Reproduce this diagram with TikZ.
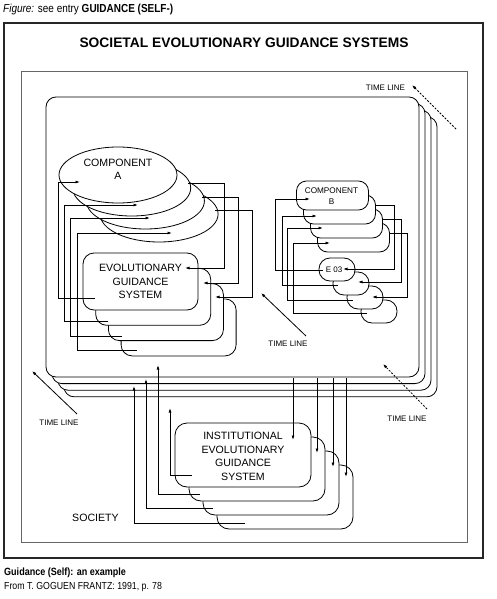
\documentclass[tikz,border=0pt]{standalone}
\usepackage{fontspec}
\setmainfont{Liberation Sans}
\newfontfamily\condfont[FakeStretch=0.86]{Liberation Sans}
\usetikzlibrary{shapes.geometric,arrows.meta}
\begin{document}
\begin{tikzpicture}[x=1pt,y=-1pt,
  ln/.style={line width=0.8pt, draw=black},
  arr/.style={ln, -{Latex[length=4.5pt,width=3pt]}},
  dsh/.style={dash pattern=on 2pt off 1.5pt},
  stk/.style={draw=black, fill=white, line width=0.8pt, inner sep=0pt, outer sep=0pt},
  lbl/.style={font=\fontsize{10.6}{13.5}\selectfont, align=center, inner sep=0pt},
  tl/.style={font=\fontsize{8}{9}\selectfont, inner sep=0pt}]
\useasboundingbox (0,0) rectangle (496,599);
% frames
\draw[black!85, line width=1.3pt] (4,23) rectangle (483,558);
\draw[black!60, line width=0.8pt] (21,71) rectangle (467,542);
\node[anchor=west, inner sep=0pt, font=\condfont\fontsize{11.6}{13}\selectfont] (hdr) at (3,9.5) {\textit{Figure:} see entry \textbf{GUIDANCE (SELF-)}};
\node[font=\bfseries\fontsize{13.8}{16}\selectfont, inner sep=0pt] (title) at (244,43) {SOCIETAL EVOLUTIONARY GUIDANCE SYSTEMS};
\node[anchor=west, inner sep=0pt, font=\condfont\bfseries\fontsize{10.5}{12}\selectfont] (cap1) at (4,573) {Guidance (Self): an example};
\node[anchor=west, inner sep=0pt, font=\condfont\fontsize{10.2}{12}\selectfont] (cap2) at (4,587) {From T. GOGUEN FRANTZ: 1991, p. 78};
% society stack
\foreach \k in {3,2,1,0} {\node[stk, rounded corners=10pt, minimum width=373pt, minimum height=280pt] (soc\k) at ({232.5+6*\k},{237+6.6*\k}) {};}
% component A ellipses
\foreach \k in {3,2,1,0} {\node[stk, ellipse, minimum width=118pt, minimum height=56pt] (ca\k) at ({118+13.7*\k},{175+13*\k}) {};}
\node[lbl] (catext) at (118,169.5) {COMPONENT\\A};
% EGS stack
\foreach \k in {3,2,1,0} {\node[stk, rounded corners=11pt, minimum width=115pt, minimum height=57pt] (egs\k) at ({140.5+12.7*\k},{281.5+15.3*\k}) {};}
\node[lbl] (egstext) at (140.5,281.5) {EVOLUTIONARY\\GUIDANCE\\SYSTEM};
% component B stack
\foreach \k in {3,2,1,0} {\node[stk, rounded corners=10pt, minimum width=72pt, minimum height=29pt] (cb\k) at ({332.5+7*\k},{195.5+14*\k}) {};}
\node[font=\fontsize{8.2}{11}\selectfont, align=center, inner sep=0pt] (cbtext) at (331.5,196) {COMPONENT\\B};
% E stack
\foreach \k in {3,2,1,0} {\node[stk, rounded corners=11pt, minimum width=36pt, minimum height=23pt] (e\k) at ({337+14*\k},{269.5+14*\k}) {};}
\node[font=\fontsize{8}{9}\selectfont, inner sep=0pt] (etext) at (334,270) {E 03};
% connectors component A, left
\coordinate (aL1s) at (95,298);  \coordinate (aL1e) at (80,182);
\coordinate (aL2s) at (108,321); \coordinate (aL2e) at (138,205);
\coordinate (aL3s) at (122,336); \coordinate (aL3e) at (150,218);
\coordinate (aL4s) at (137,350); \coordinate (aL4e) at (172,233);
\draw[arr] (aL1s) -- (58,298) |- (aL1e);
\draw[arr] (aL2s) -- (64,321) |- (aL2e);
\draw[arr] (aL3s) -- (70,336) |- (aL3e);
\draw[arr] (aL4s) -- (77,350) |- (aL4e);
% connectors component A, right
\coordinate (aR1s) at (188,183); \coordinate (aR1e) at (185,268);
\coordinate (aR2s) at (202,197); \coordinate (aR2e) at (203,283);
\coordinate (aR3s) at (215,210); \coordinate (aR3e) at (215,297);
\draw[arr] (aR1s) -- (224,183) |- (aR1e);
\draw[arr] (aR2s) -- (238,197) |- (aR2e);
\draw[arr] (aR3s) -- (252,210) |- (aR3e);
% connectors component B, left
\coordinate (bL1s) at (323,270); \coordinate (bL1e) at (310,199);
\coordinate (bL2s) at (338,285); \coordinate (bL2e) at (317,216);
\coordinate (bL3s) at (353,300); \coordinate (bL3e) at (323,228);
\coordinate (bL4s) at (367,313); \coordinate (bL4e) at (330,243);
\draw[arr] (bL1s) -- (275,270) |- (bL1e);
\draw[arr] (bL2s) -- (282,285) |- (bL2e);
\draw[arr] (bL3s) -- (287,300) |- (bL3e);
\draw[arr] (bL4s) -- (293,313) |- (bL4e);
% connectors component B, right
\coordinate (bR1s) at (376,205); \coordinate (bR1e) at (343,269);
\coordinate (bR2s) at (383,219); \coordinate (bR2e) at (358,282);
\coordinate (bR3s) at (390,233); \coordinate (bR3e) at (372,297);
\draw[arr] (bR1s) -- (394,205) |- (bR1e);
\draw[arr] (bR2s) -- (401,219) |- (bR2e);
\draw[arr] (bR3s) -- (407,233) |- (bR3e);
% IEGS stack
\foreach \k in {3,2,1,0} {\node[stk, rounded corners=12pt, minimum width=136pt, minimum height=64pt] (ie\k) at ({243+14*\k},{455+14*\k}) {};}
\node[lbl] (ietext) at (243,456.5) {INSTITUTIONAL\\EVOLUTIONARY\\GUIDANCE\\SYSTEM};
% IEGS up connectors
\coordinate (u1s) at (192,475); \coordinate (u1e) at (170,408);
\coordinate (u2s) at (200,494); \coordinate (u2e) at (158,365);
\coordinate (u3s) at (213,508); \coordinate (u3e) at (146,379);
\coordinate (u4s) at (245,523); \coordinate (u4e) at (134,386);
\draw[arr] (u1s) -| (u1e);
\draw[arr] (u2s) -| (u2e);
\draw[arr] (u3s) -| (u3e);
\draw[arr] (u4s) -| (u4e);
% down connectors
\coordinate (d1s) at (293,378); \coordinate (d1e) at (293,440);
\coordinate (d2s) at (317,378); \coordinate (d2e) at (317,453);
\coordinate (d3s) at (333,378); \coordinate (d3e) at (333,467);
\coordinate (d4s) at (346,378); \coordinate (d4e) at (346,477);
\draw[arr] (d1s) -- (d1e);
\draw[arr] (d2s) -- (d2e);
\draw[arr] (d3s) -- (d3e);
\draw[arr] (d4s) -- (d4e);
% time lines
\coordinate (t1s) at (456,129); \coordinate (t1e) at (412,85);
\coordinate (t2s) at (306,336); \coordinate (t2e) at (261,293);
\coordinate (t3s) at (77,414);  \coordinate (t3e) at (32,371);
\coordinate (t4s) at (427,409); \coordinate (t4e) at (383,364);
\draw[arr, dsh] (t1s) -- (t1e);
\draw[arr] (t2s) -- (t2e);
\draw[arr] (t3s) -- (t3e);
\draw[arr, dsh] (t4s) -- (t4e);
\node[tl] (tl1) at (385.5,88) {TIME LINE};
\node[tl] (tl2) at (288,343.5) {TIME LINE};
\node[tl] (tl3) at (59,423) {TIME LINE};
\node[tl] (tl4) at (407,419) {TIME LINE};
\node[lbl] (society) at (95.5,518) {SOCIETY};
\end{tikzpicture}
\end{document}
